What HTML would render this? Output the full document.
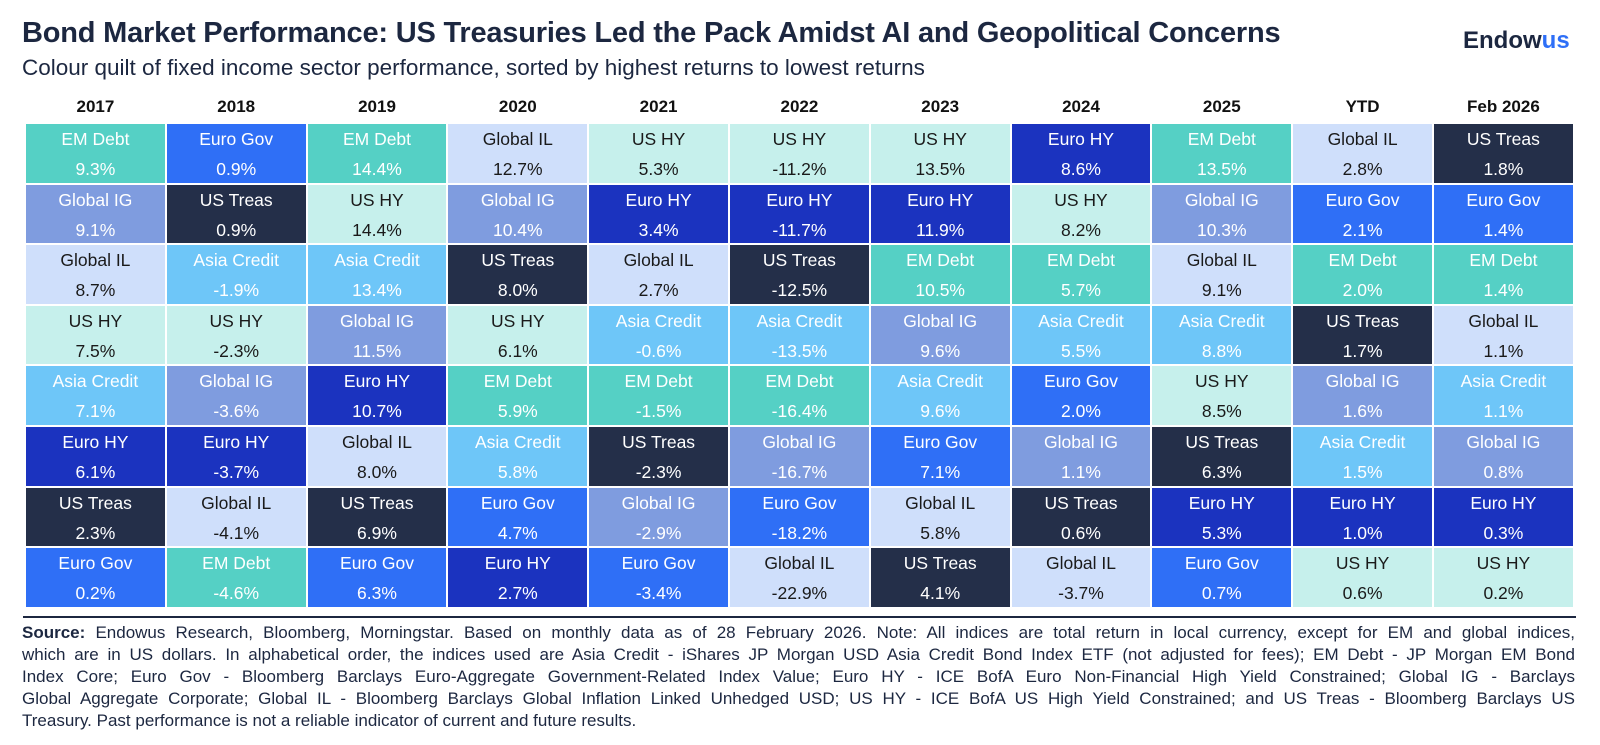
<!DOCTYPE html>
<html><head><meta charset="utf-8"><style>
body{margin:0;width:1600px;height:745px;background:#fff;font-family:"Liberation Sans",sans-serif;position:relative;overflow:hidden;color:#1c2740}
#title{position:absolute;left:22px;top:17px;font-size:29px;font-weight:bold;color:#1c2740;letter-spacing:-0.2px;white-space:nowrap}
#sub{position:absolute;left:22px;top:55px;font-size:22.5px;color:#1c2740;white-space:nowrap}
#logo{position:absolute;left:1463px;top:27px;font-size:24px;font-weight:bold;color:#1c2740}
#logo span{color:#2e6ff7}
.hdr{position:absolute;top:97px;font-size:17px;font-weight:bold;text-align:center;color:#111}
.cell{position:absolute;text-align:center;font-size:17.5px;line-height:30px;box-sizing:border-box;padding-top:0}
#rule{position:absolute;left:23px;top:616px;width:1553px;height:2px;background:#1c2740}
#foot{position:absolute;left:22px;top:622px;width:1553px;font-size:17px;line-height:22px;color:#1c2740}
#foot div{text-align:justify;text-align-last:justify;white-space:nowrap}
#foot div.last{text-align-last:left}
</style></head><body>
<div id="title">Bond Market Performance: US Treasuries Led the Pack Amidst AI and Geopolitical Concerns</div>
<div id="sub">Colour quilt of fixed income sector performance, sorted by highest returns to lowest returns</div>
<div id="logo">Endow<span>us</span></div>
<div id="grid"></div>
<div id="rule"></div>
<div id="foot">
<div><b>Source:</b> Endowus Research, Bloomberg, Morningstar. Based on monthly data as of 28 February 2026. Note: All indices are total return in local currency, except for EM and global indices,</div>
<div>which are in US dollars. In alphabetical order, the indices used are Asia Credit - iShares JP Morgan USD Asia Credit Bond Index ETF (not adjusted for fees); EM Debt - JP Morgan EM Bond</div>
<div>Index Core; Euro Gov - Bloomberg Barclays Euro-Aggregate Government-Related Index Value; Euro HY - ICE BofA Euro Non-Financial High Yield Constrained; Global IG - Barclays</div>
<div>Global Aggregate Corporate; Global IL - Bloomberg Barclays Global Inflation Linked Unhedged USD; US HY - ICE BofA US High Yield Constrained; and US Treas - Bloomberg Barclays US</div>
<div class="last">Treasury. Past performance is not a reliable indicator of current and future results.</div>
</div>
<script>
const periods=["2017","2018","2019","2020","2021","2022","2023","2024","2025","YTD","Feb 2026"];
const sectors=[
["EM Debt","Global IG","Global IL","US HY","Asia Credit","Euro HY","US Treas","Euro Gov"],
["Euro Gov","US Treas","Asia Credit","US HY","Global IG","Euro HY","Global IL","EM Debt"],
["EM Debt","US HY","Asia Credit","Global IG","Euro HY","Global IL","US Treas","Euro Gov"],
["Global IL","Global IG","US Treas","US HY","EM Debt","Asia Credit","Euro Gov","Euro HY"],
["US HY","Euro HY","Global IL","Asia Credit","EM Debt","US Treas","Global IG","Euro Gov"],
["US HY","Euro HY","US Treas","Asia Credit","EM Debt","Global IG","Euro Gov","Global IL"],
["US HY","Euro HY","EM Debt","Global IG","Asia Credit","Euro Gov","Global IL","US Treas"],
["Euro HY","US HY","EM Debt","Asia Credit","Euro Gov","Global IG","US Treas","Global IL"],
["EM Debt","Global IG","Global IL","Asia Credit","US HY","US Treas","Euro HY","Euro Gov"],
["Global IL","Euro Gov","EM Debt","US Treas","Global IG","Asia Credit","Euro HY","US HY"],
["US Treas","Euro Gov","EM Debt","Global IL","Asia Credit","Global IG","Euro HY","US HY"]];
const returns=[
[9.3,9.1,8.7,7.5,7.1,6.1,2.3,0.2],
[0.9,0.9,-1.9,-2.3,-3.6,-3.7,-4.1,-4.6],
[14.4,14.4,13.4,11.5,10.7,8.0,6.9,6.3],
[12.7,10.4,8.0,6.1,5.9,5.8,4.7,2.7],
[5.3,3.4,2.7,-0.6,-1.5,-2.3,-2.9,-3.4],
[-11.2,-11.7,-12.5,-13.5,-16.4,-16.7,-18.2,-22.9],
[13.5,11.9,10.5,9.6,9.6,7.1,5.8,4.1],
[8.6,8.2,5.7,5.5,2.0,1.1,0.6,-3.7],
[13.5,10.3,9.1,8.8,8.5,6.3,5.3,0.7],
[2.8,2.1,2.0,1.7,1.6,1.5,1.0,0.6],
[1.8,1.4,1.4,1.1,1.1,0.8,0.3,0.2]];
const fills={"EM Debt":"#55d0c5","Euro Gov":"#2f6ff6","Global IL":"#cfdffb","Global IG":"#7f9cdf","US Treas":"#242f49","US HY":"#c6f0ec","Asia Credit":"#6ec6f8","Euro HY":"#1b33bf"};
const inks={"Global IL":"#1a1a1a","US HY":"#1a1a1a"};
const x0=25,cw=140.8,y0=123,rh=60.6;
const g=document.getElementById('grid');
periods.forEach((p,i)=>{
 const h=document.createElement('div');h.className='hdr';
 
 
 h.style.left=(x0+i*cw)+'px';h.style.width=cw+'px';h.textContent=p;g.appendChild(h);
 sectors[i].forEach((s,j)=>{
  const c=document.createElement('div');c.className='cell';
  
  
  c.style.left=(x0+i*cw+1)+'px';c.style.top=(y0+j*rh+1)+'px';
  c.style.width=(cw-2)+'px';c.style.height=(rh-2)+'px';
  c.style.background=fills[s];c.style.color=inks[s]||'#fff';
  c.innerHTML=s+'<br>'+returns[i][j].toFixed(1)+'%';g.appendChild(c);
 });
});
</script>
</body></html>
